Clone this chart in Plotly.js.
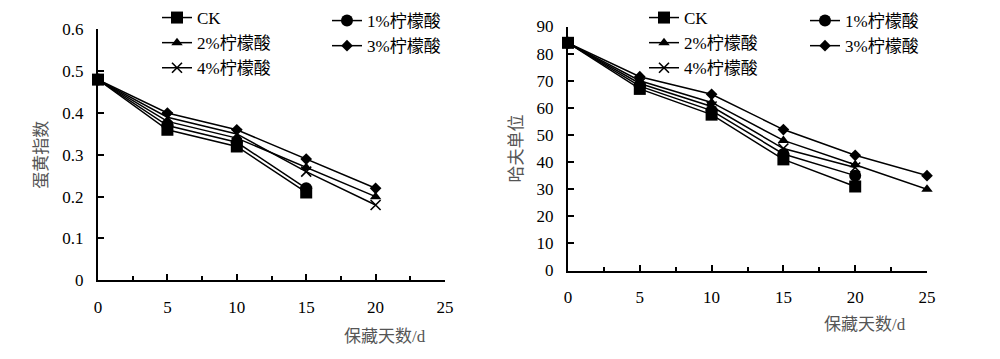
<!DOCTYPE html>
<html>
<head>
<meta charset="utf-8">
<script src="https://cdn.plot.ly/plotly-3.0.1.min.js"></script>
<style>html,body{margin:0;padding:0;background:#fff;}#chart{width:1000px;height:359px;}</style>
</head>
<body>
<div id="chart"></div>
<script>
// ---- data ----
const seriesNames = ['CK', '1%柠檬酸', '2%柠檬酸', '3%柠檬酸', '4%柠檬酸'];
const daysShort = [0, 5, 10, 15];
const daysMid = [0, 5, 10, 15, 20];
const daysLong = [0, 5, 10, 15, 20, 25];

// 蛋黄指数 (left chart)
const yolkCK = [0.48, 0.36, 0.32, 0.21];
const yolk1 = [0.48, 0.37, 0.33, 0.22];
const yolk2 = [0.48, 0.38, 0.34, 0.27, 0.20];
const yolk3 = [0.48, 0.40, 0.36, 0.29, 0.22];
const yolk4 = [0.48, 0.39, 0.35, 0.26, 0.18];

// 哈夫单位 (right chart)
const haughCK = [84, 67, 57.5, 41, 31];
const haugh1 = [84, 68, 59, 43, 35];
const haugh2 = [84, 70, 62, 48, 39, 30];
const haugh3 = [84, 71.5, 65, 52, 42.5, 35];
const haugh4 = [84, 69, 60.5, 45, 38];

const xTicks = [0, 5, 10, 15, 20, 25];
const leftYTicks = [0, 0.1, 0.2, 0.3, 0.4, 0.5, 0.6];
const rightYTicks = [0, 10, 20, 30, 40, 50, 60, 70, 80, 90];

// ---- styles ----
const FONT = 'Liberation Serif, "Times New Roman", "Noto Sans CJK SC", serif';
const markerStyles = [
  {symbol: 'square', size: 12, color: '#000'},
  {symbol: 'circle', size: 12, color: '#000'},
  {symbol: 'triangle-up', size: 10, color: '#000'},
  {symbol: 'diamond', size: 9, color: '#000'},
  {symbol: 'x-thin-open', size: 10, color: '#000', line: {color: '#000', width: 1.6}}
];

function mk(x, y, i, xa, ya, legendId) {
  return {
    x: x, y: y, type: 'scatter', mode: 'lines+markers',
    name: seriesNames[i], xaxis: xa, yaxis: ya, legend: legendId,
    line: {color: '#000', width: 1.5},
    marker: markerStyles[i], cliponaxis: false
  };
}

const traces = [
  mk(daysShort, yolkCK, 0, 'x', 'y', 'legend'),
  mk(daysShort, yolk1, 1, 'x', 'y', 'legend2'),
  mk(daysMid, yolk2, 2, 'x', 'y', 'legend'),
  mk(daysMid, yolk3, 3, 'x', 'y', 'legend2'),
  mk(daysMid, yolk4, 4, 'x', 'y', 'legend'),
  mk(daysMid, haughCK, 0, 'x2', 'y2', 'legend3'),
  mk(daysMid, haugh1, 1, 'x2', 'y2', 'legend4'),
  mk(daysLong, haugh2, 2, 'x2', 'y2', 'legend3'),
  mk(daysLong, haugh3, 3, 'x2', 'y2', 'legend4'),
  mk(daysMid, haugh4, 4, 'x2', 'y2', 'legend3')
];

const xAxisBase = {
  range: [0, 25], tickvals: xTicks, ticks: 'inside', ticklen: 6, tickwidth: 2,
  tickcolor: '#000', showline: true, linecolor: '#000', linewidth: 2,
  showgrid: false, zeroline: false, automargin: false,
  tickfont: {family: FONT, size: 17, color: '#000'}, ticklabelstandoff: 10,
  minor: {dtick: 2.5, tick0: 0, ticks: 'inside', ticklen: 4, tickwidth: 2, tickcolor: '#000', showgrid: false}
};
const yAxisBase = {
  ticks: 'inside', ticklen: 6, tickwidth: 2, tickcolor: '#000',
  showline: true, linecolor: '#000', linewidth: 2, showgrid: false, zeroline: false,
  automargin: false, tickfont: {family: FONT, size: 17, color: '#000'}, ticklabelstandoff: 9
};

const legendBase = {
  orientation: 'v', bgcolor: 'rgba(0,0,0,0)', borderwidth: 0,
  font: {family: FONT, size: 17, color: '#000'}, xanchor: 'left', yanchor: 'top',
  tracegroupgap: 0, itemwidth: 30
};

const layout = {
  width: 1000, height: 359,
  margin: {l: 0, r: 0, t: 0, b: 0},
  paper_bgcolor: '#fff', plot_bgcolor: '#fff',
  showlegend: true,
  xaxis: Object.assign({}, xAxisBase, {domain: [0.098, 0.445], anchor: 'y'}),
  yaxis: Object.assign({}, yAxisBase, {domain: [0.2256, 0.9443], range: [0, 0.6], tickvals: leftYTicks,
    anchor: 'x',
    title: {text: '蛋黄指数', font: {family: FONT, size: 17, color: '#555'}, standoff: 10}}),
  xaxis2: Object.assign({}, xAxisBase, {domain: [0.568, 0.927], anchor: 'y2'}),
  yaxis2: Object.assign({}, yAxisBase, {domain: [0.2535, 0.9526], range: [0, 90], tickvals: rightYTicks,
    anchor: 'x2',
    title: {text: '哈夫单位', font: {family: FONT, size: 17, color: '#555'}, standoff: 10}}),
  legend: Object.assign({}, legendBase, {x: 0.157, y: 1.03}),
  legend2: Object.assign({}, legendBase, {x: 0.327, y: 1.02}),
  legend3: Object.assign({}, legendBase, {x: 0.644, y: 1.03}),
  legend4: Object.assign({}, legendBase, {x: 0.805, y: 1.02}),
  annotations: [
    {text: '保藏天数/d', xref: 'paper', yref: 'paper', x: 0.385, y: (359 - 336) / 359,
     yanchor: 'middle', xanchor: 'center',
     showarrow: false, font: {family: FONT, size: 17, color: '#555'}},
    {text: '保藏天数/d', xref: 'paper', yref: 'paper', x: 0.865, y: (359 - 323) / 359,
     yanchor: 'middle', xanchor: 'center',
     showarrow: false, font: {family: FONT, size: 17, color: '#555'}}
  ]
};

Plotly.newPlot('chart', traces, layout, {displayModeBar: false, staticPlot: true});
</script>
</body>
</html>
